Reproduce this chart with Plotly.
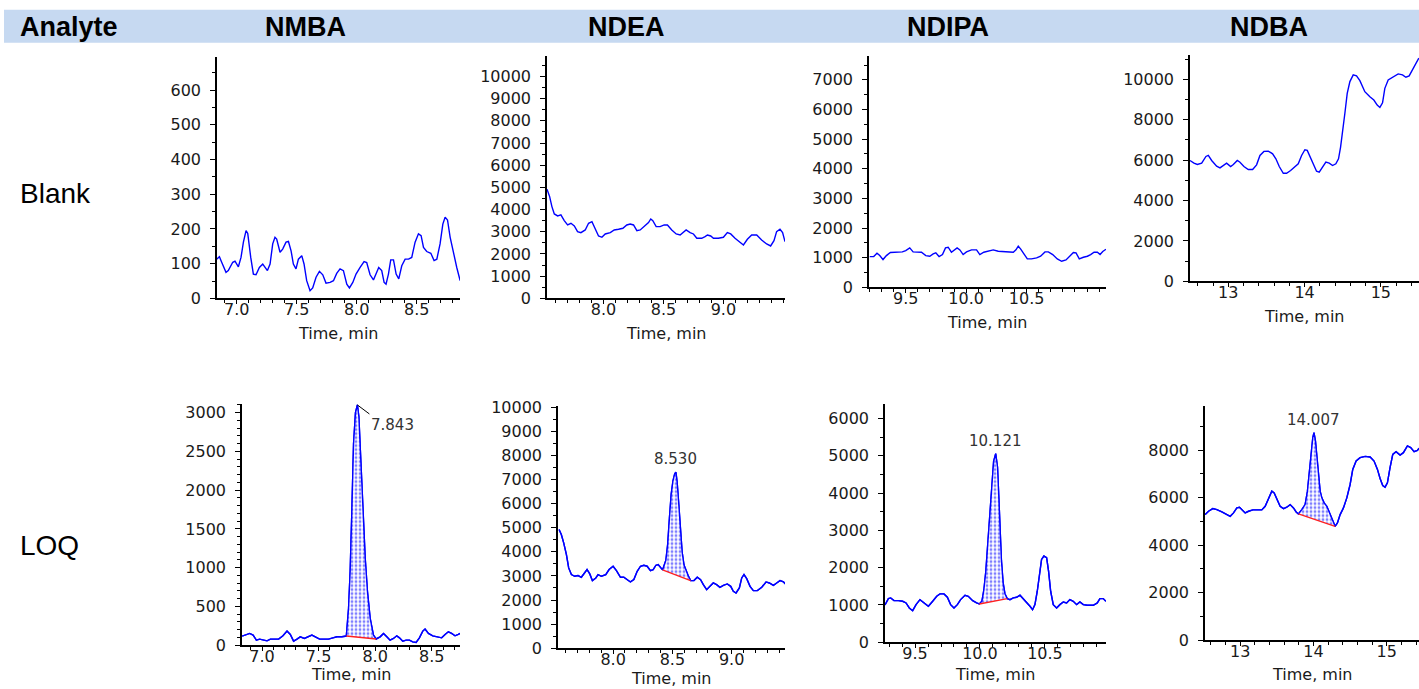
import numpy as np
import plotly.graph_objects as go

W, H = 1419, 689

# ---------------- data ----------------
analytes = ["NMBA", "NDEA", "NDIPA", "NDBA"]
row_labels = ["Blank", "LOQ"]

nmba_blank_t = [6.833, 6.856, 6.875, 6.911, 6.93, 6.967, 6.986, 7.014, 7.036, 7.056, 7.078, 7.092, 7.117, 7.139, 7.161,
                7.189, 7.217, 7.236, 7.256, 7.278, 7.3, 7.319, 7.333, 7.361, 7.383, 7.411, 7.431, 7.453, 7.472, 7.494,
                7.514, 7.542, 7.561, 7.583, 7.611, 7.633, 7.661, 7.689, 7.717, 7.744, 7.778, 7.806, 7.833, 7.861, 7.889,
                7.917, 7.939, 7.967, 7.994, 8.028, 8.061, 8.083, 8.111, 8.139, 8.161, 8.183, 8.208, 8.228, 8.244, 8.264,
                8.283, 8.306, 8.328, 8.35, 8.375, 8.403, 8.431, 8.458, 8.486, 8.514, 8.536, 8.556, 8.583, 8.617, 8.644,
                8.667, 8.694, 8.717, 8.736, 8.756, 8.778, 8.806, 8.833, 8.861]
nmba_blank_i = [113, 120, 104, 75, 80, 104, 107, 91, 118, 162, 195, 187, 118, 70, 68,
                89, 99, 88, 80, 99, 157, 176, 171, 133, 142, 162, 164, 137, 99, 85,
                113, 123, 99, 51, 22, 30, 61, 78, 68, 44, 46, 51, 72, 85, 80,
                41, 30, 46, 70, 89, 106, 103, 68, 53, 72, 89, 80, 46, 41, 70,
                111, 111, 70, 56, 94, 113, 113, 118, 162, 186, 181, 147, 135, 130, 109,
                113, 157, 214, 234, 226, 176, 128, 89, 51]

ndea_blank_t = [7.528, 7.55, 7.569, 7.589, 7.617, 7.644, 7.672, 7.7, 7.728, 7.756, 7.783, 7.811, 7.847, 7.875, 7.903,
                7.931, 7.958, 7.986, 8.014, 8.056, 8.089, 8.125, 8.161, 8.194, 8.222, 8.25, 8.278, 8.306, 8.339, 8.375,
                8.394, 8.411, 8.439, 8.472, 8.506, 8.533, 8.569, 8.606, 8.639, 8.667, 8.689, 8.722, 8.75, 8.778, 8.819,
                8.847, 8.867, 8.894, 8.917, 8.958, 9.0, 9.033, 9.061, 9.097, 9.133, 9.167, 9.2, 9.236, 9.278, 9.319,
                9.361, 9.394, 9.422, 9.444, 9.472, 9.494, 9.514]
ndea_blank_i = [4917, 4586, 4135, 3805, 3714, 3759, 3504, 3308, 3383, 3263, 3008, 2962, 3083, 3383, 3459,
                3158, 2812, 2752, 2902, 2962, 3083, 3113, 3158, 3308, 3353, 3308, 3053, 3083, 3263, 3414,
                3579, 3504, 3233, 3233, 3308, 3308, 3083, 2902, 2857, 3008, 3083, 2962, 2902, 2707, 2707,
                2782, 2857, 2812, 2707, 2707, 2752, 2962, 2902, 2707, 2556, 2406, 2662, 2857, 2857, 2632,
                2451, 2361, 2602, 3008, 3113, 2962, 2556]

ndipa_blank_t = [9.202, 9.235, 9.262, 9.285, 9.312, 9.34, 9.373, 9.409, 9.445, 9.472, 9.5, 9.533, 9.561, 9.602, 9.63,
                 9.666, 9.699, 9.727, 9.749, 9.776, 9.804, 9.829, 9.851, 9.878, 9.906, 9.925, 9.948, 9.975, 10.003,
                 10.044, 10.086, 10.113, 10.146, 10.182, 10.224, 10.265, 10.307, 10.348, 10.39, 10.412, 10.431, 10.45,
                 10.478, 10.506, 10.541, 10.583, 10.616, 10.652, 10.68, 10.716, 10.754, 10.79, 10.826, 10.859, 10.887,
                 10.909, 10.936, 10.97, 11.003, 11.03, 11.058, 11.086, 11.108, 11.13, 11.157]
ndipa_blank_i = [1038, 1038, 1151, 1072, 937, 1072, 1174, 1185, 1208, 1196, 1242, 1332, 1196, 1185, 1185,
                 1072, 1050, 1129, 1163, 1038, 1106, 1332, 1354, 1185, 1264, 1332, 1264, 1106, 1196,
                 1264, 1264, 1106, 1185, 1219, 1264, 1219, 1208, 1185, 1185, 1264, 1388, 1298,
                 1129, 959, 959, 993, 1050, 1196, 1196, 1106, 959, 880, 925, 1072, 1174,
                 1163, 959, 1016, 1050, 1106, 1185, 1185, 1106, 1208, 1287]

ndba_blank_t = [12.498, 12.55, 12.594, 12.651, 12.707, 12.738, 12.782, 12.847, 12.891, 12.934, 12.978, 13.031, 13.066,
                13.118, 13.153, 13.205, 13.262, 13.319, 13.371, 13.415, 13.467, 13.524, 13.581, 13.624, 13.668, 13.721,
                13.764, 13.817, 13.873, 13.917, 13.961, 14.004, 14.035, 14.07, 14.114, 14.157, 14.192, 14.236, 14.279,
                14.323, 14.367, 14.41, 14.445, 14.472, 14.498, 14.528, 14.559, 14.594, 14.638, 14.681, 14.725, 14.79,
                14.856, 14.908, 14.952, 14.987, 15.022, 15.052, 15.096, 15.162, 15.227, 15.284, 15.328, 15.371, 15.415,
                15.459, 15.498]
ndba_blank_i = [5980, 5847, 5781, 5847, 6179, 6229, 5980, 5698, 5615, 5731, 5847, 5681, 5781,
                5980, 5897, 5681, 5532, 5532, 5764, 6229, 6429, 6445, 6312, 6063, 5681, 5349,
                5349, 5482, 5648, 5814, 6229, 6512, 6478, 6179, 5731, 5449, 5399, 5648, 5897,
                5847, 5731, 5814, 6063, 6645, 7309, 8306, 9302, 9884, 10216, 10166, 9934, 9385,
                9136, 8970, 8721, 8605, 8837, 9551, 9967, 10133, 10266, 10216, 10100, 10166, 10465,
                10797, 11047]

nmba_loq_t = [6.824, 6.853, 6.891, 6.921, 6.95, 6.979, 7.009, 7.044, 7.074, 7.109, 7.147, 7.185, 7.221, 7.25, 7.279,
              7.309, 7.338, 7.374, 7.412, 7.441, 7.471, 7.509, 7.544, 7.588, 7.626, 7.662, 7.706, 7.735, 7.745,
              7.765, 7.779, 7.794, 7.809, 7.826, 7.843, 7.856, 7.868, 7.891, 7.912, 7.932, 7.956, 7.985, 8.009,
              8.044, 8.074, 8.103, 8.132, 8.162, 8.191, 8.215, 8.244, 8.274, 8.303, 8.332, 8.362, 8.391, 8.421,
              8.441, 8.471, 8.509, 8.55, 8.588, 8.618, 8.647, 8.676, 8.706, 8.735, 8.76, 8.78]
nmba_loq_i = [117, 130, 152, 130, 65, 78, 65, 56, 78, 78, 78, 121, 182, 139, 52,
              78, 108, 87, 108, 130, 108, 78, 78, 78, 95, 108, 108, 121, 118,
              476, 952, 1732, 2597, 3000, 3100, 2950, 2510, 1775, 1126, 693, 346, 130, 80,
              108, 152, 108, 65, 87, 121, 95, 52, 65, 65, 43, 35, 95, 182,
              208, 152, 121, 108, 95, 139, 173, 152, 121, 139, 160, 100]

ndea_loq_t = [7.544, 7.563, 7.583, 7.606, 7.625, 7.648, 7.676, 7.704, 7.732, 7.761, 7.78, 7.803, 7.825, 7.854, 7.873,
              7.901, 7.938, 7.966, 8.0, 8.028, 8.062, 8.09, 8.118, 8.146, 8.175, 8.203, 8.231, 8.259, 8.287, 8.315,
              8.338, 8.361, 8.38, 8.4, 8.417, 8.445, 8.46, 8.475, 8.49, 8.505, 8.52, 8.53, 8.54, 8.555, 8.568,
              8.582, 8.598, 8.617, 8.635, 8.654, 8.682, 8.71, 8.738, 8.761, 8.789, 8.817, 8.845, 8.873, 8.901,
              8.93, 8.963, 8.992, 9.014, 9.037, 9.065, 9.085, 9.104, 9.127, 9.155, 9.183, 9.217, 9.254, 9.29,
              9.318, 9.352, 9.38, 9.408, 9.437, 9.459]
ndea_loq_i = [4931, 4722, 4375, 3889, 3333, 3056, 2986, 3014, 2944, 3125, 3264, 3083, 2806, 2917, 3056,
              2986, 3056, 3264, 3403, 3222, 2944, 2944, 2847, 2750, 2847, 3194, 3403, 3444, 3403, 3222,
              3264, 3444, 3472, 3333, 3250, 3650, 4300, 5400, 6400, 6950, 7250, 7300, 6900, 5900, 4800,
              4000, 3450, 3190, 2990, 2806, 2806, 2944, 2847, 2639, 2431, 2569, 2708, 2639, 2528,
              2611, 2667, 2569, 2361, 2292, 2500, 2917, 3056, 2889, 2569, 2389, 2389, 2528, 2750,
              2708, 2611, 2708, 2806, 2750, 2639]

ndipa_loq_t = [9.269, 9.277, 9.295, 9.313, 9.338, 9.372, 9.405, 9.431, 9.456, 9.482, 9.508, 9.538, 9.569, 9.603,
               9.636, 9.667, 9.692, 9.723, 9.749, 9.774, 9.8, 9.826, 9.851, 9.885, 9.91, 9.944, 9.974, 9.995,
               10.015, 10.03, 10.045, 10.06, 10.075, 10.09, 10.105, 10.121, 10.135, 10.145, 10.155, 10.165, 10.178,
               10.192, 10.21, 10.231, 10.256, 10.282, 10.308, 10.333, 10.359, 10.385, 10.405, 10.423, 10.441,
               10.456, 10.474, 10.492, 10.513, 10.528, 10.544, 10.564, 10.59, 10.615, 10.641, 10.667, 10.692,
               10.718, 10.744, 10.769, 10.795, 10.826, 10.872, 10.903, 10.923, 10.949, 10.969]
ndipa_loq_i = [1000, 1052, 1169, 1187, 1115, 1115, 1097, 1052, 917, 845, 1007, 1142, 1052, 962,
               1097, 1232, 1295, 1295, 1205, 1007, 917, 1007, 1142, 1259, 1232, 1115, 1052, 1025,
               1100, 1400, 1900, 2700, 3500, 4300, 4850, 5060, 4700, 3900, 3000, 2200, 1600,
               1300, 1170, 1142, 1187, 1205, 1259, 1169, 1079, 962, 872, 1007, 1367,
               1817, 2221, 2311, 2266, 1906, 1367, 1007, 917, 1007, 1079, 1052, 1142,
               1097, 1007, 1079, 1007, 989, 989, 1052, 1169, 1169, 1097]

ndba_loq_t = [12.523, 12.568, 12.627, 12.682, 12.75, 12.809, 12.864, 12.909, 12.955, 12.991, 13.023, 13.068, 13.114,
              13.173, 13.236, 13.295, 13.341, 13.386, 13.432, 13.464, 13.5, 13.545, 13.591, 13.636, 13.682, 13.727,
              13.764, 13.795, 13.841, 13.886, 13.918, 13.945, 13.968, 13.991, 14.007, 14.027, 14.045, 14.068, 14.091,
              14.114, 14.145, 14.182, 14.218, 14.25, 14.273, 14.295, 14.327, 14.364, 14.409, 14.455, 14.5, 14.536,
              14.582, 14.636, 14.705, 14.773, 14.827, 14.873, 14.909, 14.945, 14.977, 15.009, 15.045, 15.082,
              15.127, 15.182, 15.227, 15.282, 15.327, 15.373, 15.418, 15.441]
ndba_loq_i = [5289, 5430, 5543, 5501, 5402, 5317, 5219, 5360, 5571, 5599, 5501, 5360, 5430,
              5487, 5487, 5487, 5642, 5994, 6276, 6206, 5924, 5642, 5543, 5599, 5712, 5571,
              5402, 5317, 5501, 5712, 6276, 6982, 7828, 8533, 8745, 8392, 7687, 6982, 6276,
              5994, 5783, 5642, 5360, 5078, 4937, 4795, 4937, 5289, 5571, 5994, 6558, 7193,
              7546, 7687, 7743, 7715, 7546, 7193, 6812, 6516, 6446, 6629, 7264, 7828,
              7941, 7800, 7899, 8181, 8110, 7941, 7997, 8082]

peak_rt = [7.843, 8.530, 10.121, 14.007]
peak_label = ["7.843", "8.530", "10.121", "14.007"]
int_start = [7.745, 8.417, 9.995, 13.795]
int_end = [8.009, 8.654, 10.21, 14.295]

blank_series = [(nmba_blank_t, nmba_blank_i), (ndea_blank_t, ndea_blank_i),
                (ndipa_blank_t, ndipa_blank_i), (ndba_blank_t, ndba_blank_i)]
loq_series = [(nmba_loq_t, nmba_loq_i), (ndea_loq_t, ndea_loq_i),
              (ndipa_loq_t, ndipa_loq_i), (ndba_loq_t, ndba_loq_i)]

# axis ranges (x then y)
x_ranges = [[6.836, 8.86], [7.528, 9.514], [9.196, 11.157], [12.498, 15.5],
            [6.823, 8.75], [7.535, 9.45], [9.269, 10.97], [12.52, 15.44]]
y_ranges = [[0, 696], [0, 10930], [0, 7810], [0, 11210],
            [0, 3117], [0, 10070], [0, 6400], [0, 9880]]
x_tickvals = [[7.0, 7.5, 8.0, 8.5], [8.0, 8.5, 9.0], [9.5, 10.0, 10.5], [13, 14, 15]]
y_dticks = [100, 1000, 1000, 2000, 500, 1000, 1000, 2000]
y_minor = [50, 500, 500, 1000, 100, 500, 500, 1000]
x_minor = [0.1, 0.1, 0.1, 0.2, 0.1, 0.1, 0.1, 0.2]

# ---------------- layout (target pixel boxes: left, right, top, bottom) ----------------
boxes = [(217, 460, 57, 298), (547, 785, 56, 298), (869, 1106, 56, 287), (1190, 1419, 55, 281),
         (242, 460, 403, 644), (558, 785, 405, 647), (885, 1106, 403, 641), (1205, 1419, 405, 639)]
title_rows = [333, 333, 322, 316, 673, 677, 673, 673]

# the captured page is compressed vertically; map target pixel rows to canvas rows
VS, VO = 0.9716, 8.3


def vy(py):
    """paper y fraction for a target pixel row"""
    return 1 - ((py - VO) / VS) / H


TICK_FONT = dict(family="DejaVu Sans", size=16, color="#1a1a1a")
BLUE = "#0000FF"

fig = go.Figure()
layout = dict(width=W, height=H, margin=dict(l=0, r=0, t=0, b=0),
              paper_bgcolor="white", plot_bgcolor="white", showlegend=False)
annotations = []

for k in range(8):
    l, r, t, b = boxes[k]
    sfx = "" if k == 0 else str(k + 1)
    xa, ya = "x" + sfx, "y" + sfx
    col = k % 4
    if k < 4:
        tx, ty = blank_series[col]
    else:
        tx, ty = loq_series[col]
    fig.add_trace(go.Scatter(x=tx, y=ty, mode="lines", line=dict(color=BLUE, width=1.4),
                             xaxis=xa, yaxis=ya, hoverinfo="skip"))
    if k >= 4:
        t0, t1 = int_start[col], int_end[col]
        txa, tya = np.array(tx), np.array(ty)
        y0, y1 = float(np.interp(t0, txa, tya)), float(np.interp(t1, txa, tya))
        m = (txa > t0) & (txa < t1)
        px = [t0] + list(txa[m]) + [t1]
        py = [y0] + list(tya[m]) + [y1]
        fig.add_trace(go.Scatter(x=px, y=py, mode="lines", fill="toself", line=dict(width=0, color=BLUE),
                                 fillcolor="rgba(0,0,0,0)",
                                 fillpattern=dict(shape=".", fgcolor=BLUE, bgcolor="white", size=4, solidity=0.4),
                                 xaxis=xa, yaxis=ya, hoverinfo="skip"))
        fig.add_trace(go.Scatter(x=tx, y=ty, mode="lines", line=dict(color=BLUE, width=1.4),
                                 xaxis=xa, yaxis=ya, hoverinfo="skip"))
        fig.add_trace(go.Scatter(x=[t0, t1], y=[y0, y1], mode="lines", line=dict(color="#FF2020", width=1.4),
                                 xaxis=xa, yaxis=ya, hoverinfo="skip"))
        ph = float(np.interp(peak_rt[col], txa, tya))
        if col == 0:
            annotations.append(dict(x=peak_rt[col], y=ph, xref=xa, yref=ya, text=peak_label[col],
                                    showarrow=True, arrowhead=0, arrowwidth=1, arrowcolor="black",
                                    ax=12, ay=9, xanchor="left", yanchor="top", standoff=0,
                                    font=dict(family="DejaVu Sans", size=15, color="#333")))
        else:
            annotations.append(dict(x=peak_rt[col], y=ph, xref=xa, yref=ya, text=peak_label[col],
                                    showarrow=False, yanchor="bottom", yshift=2,
                                    font=dict(family="DejaVu Sans", size=15, color="#333")))

    xr = x_ranges[k]
    xfmt = "d" if col == 3 else ".1f"
    layout["xaxis" + sfx] = dict(domain=[l / W, r / W], range=xr, anchor=ya,
                                 showline=True, linecolor="black", linewidth=1.5, mirror=False,
                                 showgrid=False, zeroline=False,
                                 tickmode="array", tickvals=x_tickvals[col], tickformat=xfmt,
                                 ticks="outside", ticklen=4, tickwidth=1.2, tickcolor="black",
                                 tickfont=TICK_FONT, ticklabelstandoff=-8,
                                 minor=dict(tickmode="linear", tick0=0, dtick=x_minor[k], ticks="outside",
                                            ticklen=3, tickwidth=1, tickcolor="black", showgrid=False),
                                 fixedrange=True)
    layout["yaxis" + sfx] = dict(domain=[vy(b), vy(t)], range=y_ranges[k], anchor=xa,
                                 showline=True, linecolor="black", linewidth=1.5,
                                 showgrid=False, zeroline=False,
                                 tickmode="linear", tick0=0, dtick=y_dticks[k], tickformat="d",
                                 ticks="outside", ticklen=5, tickwidth=1.2, tickcolor="black",
                                 tickfont=TICK_FONT, ticklabelstandoff=6,
                                 minor=dict(tickmode="linear", tick0=0, dtick=y_minor[k], ticks="outside",
                                            ticklen=3, tickwidth=1, tickcolor="black", showgrid=False),
                                 fixedrange=True)
    annotations.append(dict(x=(l + r) / 2 / W, y=vy(title_rows[k]), xref="paper", yref="paper",
                            text="Time, min", showarrow=False, xanchor="center", yanchor="middle",
                            font=dict(family="DejaVu Sans", size=16, color="#1a1a1a")))

# header bar and texts
shapes = [dict(type="rect", xref="paper", yref="paper", x0=4 / W, x1=1, y0=vy(43), y1=vy(10),
               fillcolor="#C6D9F1", line=dict(width=0), layer="below")]
header_x = [69, 305, 626, 948, 1269]
for txt, cx in zip(["Analyte"] + analytes, header_x):
    annotations.append(dict(x=cx / W, y=vy(27), xref="paper", yref="paper", text="<b>" + txt + "</b>",
                            showarrow=False, xanchor="center", yanchor="middle",
                            font=dict(family="Liberation Sans, Arial", size=27, color="black")))
for txt, cy in zip(row_labels, [193, 545]):
    annotations.append(dict(x=18 / W, y=vy(cy), xref="paper", yref="paper", text=txt,
                            showarrow=False, xanchor="left", yanchor="middle",
                            font=dict(family="Liberation Sans, Arial", size=28, color="black")))

layout["annotations"] = annotations
layout["shapes"] = shapes
fig.update_layout(**layout)

post_js = ("var gd=document.getElementById('{plot_id}');"
           "document.documentElement.style.margin='0';document.body.style.margin='0';"
           "document.documentElement.style.overflow='hidden';document.body.style.overflow='hidden';"
           "gd.style.position='fixed';gd.style.top='0px';gd.style.left='0px';")
fig.write_html("out.html", config={"displayModeBar": False}, post_script=post_js)
